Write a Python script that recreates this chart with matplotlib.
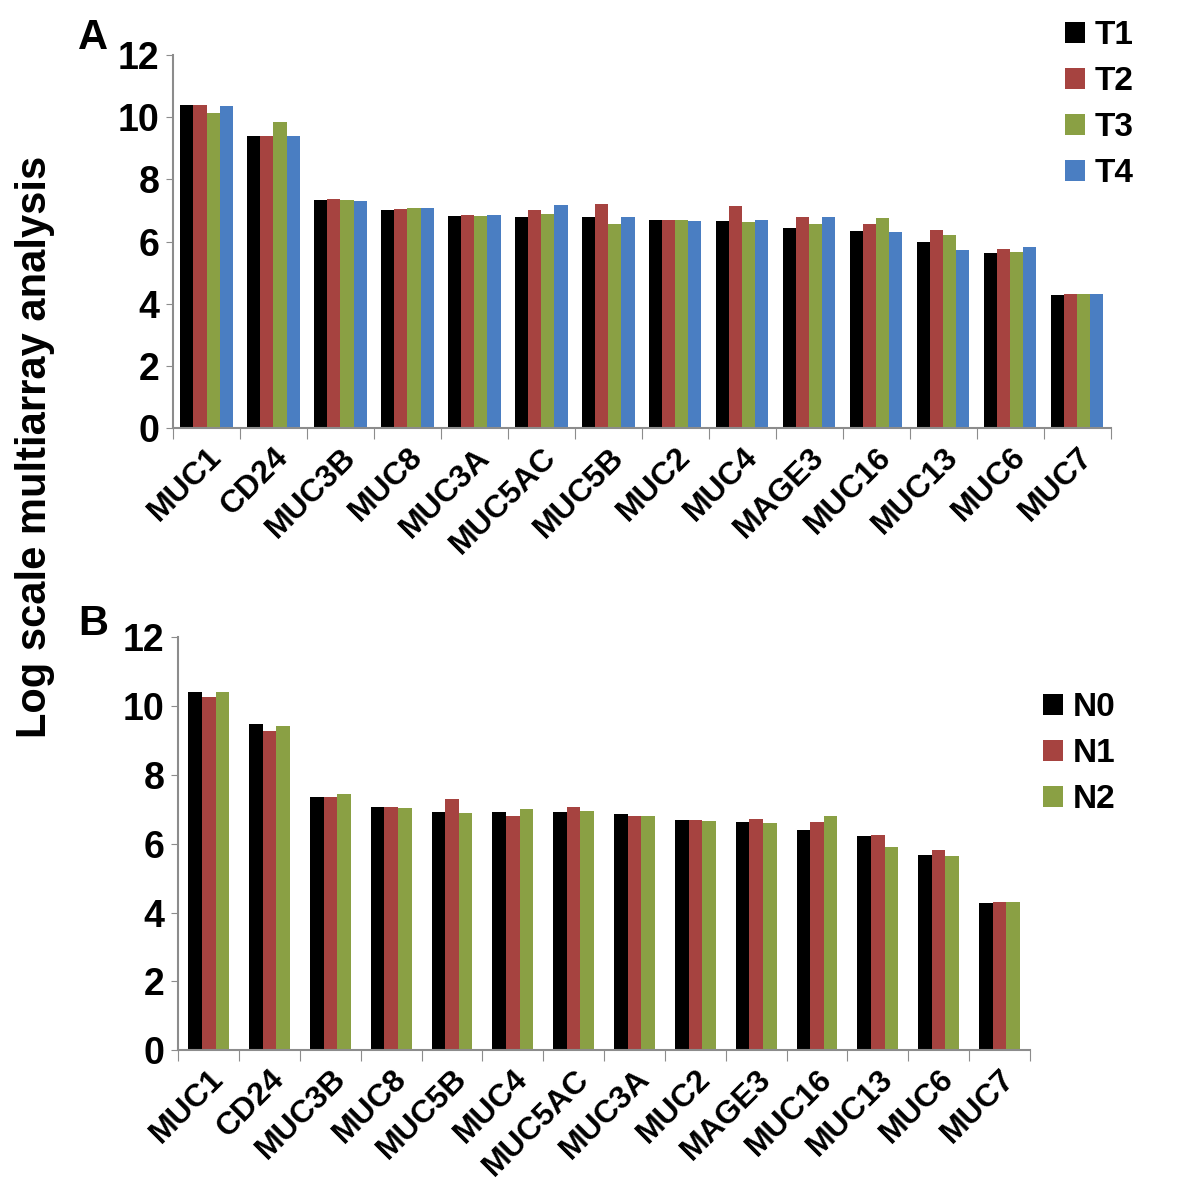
import numpy as np
import matplotlib
matplotlib.use("Agg")
from matplotlib import pyplot as plt

plt.rcParams['font.family'] = ['Liberation Sans', 'DejaVu Sans']
plt.rcParams['font.weight'] = 'bold'

# panel A data
genes_a = ["MUC1", "CD24", "MUC3B", "MUC8", "MUC3A", "MUC5AC", "MUC5B",
           "MUC2", "MUC4", "MAGE3", "MUC16", "MUC13", "MUC6", "MUC7"]
t1 = [10.40, 9.40, 7.35, 7.00, 6.82, 6.80, 6.78, 6.70, 6.66, 6.45, 6.35, 5.98, 5.62, 4.28]
t2 = [10.38, 9.38, 7.38, 7.05, 6.85, 7.03, 7.22, 6.70, 7.15, 6.80, 6.55, 6.38, 5.75, 4.30]
t3 = [10.15, 9.83, 7.35, 7.08, 6.82, 6.88, 6.58, 6.68, 6.62, 6.56, 6.76, 6.20, 5.65, 4.30]
t4 = [10.35, 9.40, 7.30, 7.08, 6.85, 7.17, 6.80, 6.66, 6.68, 6.78, 6.32, 5.72, 5.82, 4.30]

# panel B data
genes_b = ["MUC1", "CD24", "MUC3B", "MUC8", "MUC5B", "MUC4", "MUC5AC",
           "MUC3A", "MUC2", "MAGE3", "MUC16", "MUC13", "MUC6", "MUC7"]
n0 = [10.42, 9.48, 7.35, 7.07, 6.93, 6.92, 6.92, 6.87, 6.70, 6.62, 6.40, 6.24, 5.68, 4.28]
n1 = [10.26, 9.27, 7.37, 7.07, 7.30, 6.82, 7.08, 6.80, 6.68, 6.72, 6.63, 6.26, 5.82, 4.30]
n2 = [10.42, 9.42, 7.44, 7.04, 6.90, 7.02, 6.94, 6.82, 6.67, 6.60, 6.80, 5.92, 5.65, 4.30]

colors = ["#000000", "#A64340", "#8AA044", "#4A7EC2"]
spine_col = "#8c8c8c"


def draw(ax, genes, series, names, group_w):
    x = np.arange(len(genes))
    n = len(series)
    w = group_w / n
    for i, (vals, nm) in enumerate(zip(series, names)):
        ax.bar(x - group_w / 2 + w * (i + 0.5), vals, w, color=colors[i], label=nm)
    ax.set_xlim(-0.5, len(genes) - 0.5)
    ax.set_ylim(0, 12)
    ax.set_yticks(range(0, 13, 2))
    ax.set_xticks(np.arange(len(genes) + 1) - 0.5)
    ax.set_xticklabels([])
    ax.set_xticks(x, minor=True)
    ax.set_xticklabels(genes, minor=True, rotation=45, ha='right',
                       rotation_mode='anchor', fontsize=23, fontweight='bold')
    ax.tick_params(axis='x', which='minor', length=0, pad=10)
    ax.tick_params(axis='x', which='major', length=8, color=spine_col, direction='out')
    ax.tick_params(axis='y', length=5, color=spine_col, labelsize=27, pad=5)
    for s in ['top', 'right']:
        ax.spines[s].set_visible(False)
    for s in ['left', 'bottom']:
        ax.spines[s].set_color(spine_col)
        ax.spines[s].set_linewidth(1.5)


fig = plt.figure(figsize=(11.81, 11.96), dpi=100)

ax1 = fig.add_axes([0.1465, 0.642, 0.794, 0.312])
draw(ax1, genes_a, [t1, t2, t3, t4], ["T1", "T2", "T3", "T4"], 0.78)
ax1.legend(loc='upper left', bbox_to_anchor=(0.937, 1.13), frameon=False,
           prop={'size': 24, 'weight': 'bold'}, handlelength=0.6, handleheight=0.6,
           handletextpad=0.3, labelspacing=0.45, borderaxespad=0)

ax2 = fig.add_axes([0.151, 0.122, 0.721, 0.345])
draw(ax2, genes_b, [n0, n1, n2], ["N0", "N1", "N2"], 0.67)
ax2.legend(loc='upper left', bbox_to_anchor=(1.0, 0.90), frameon=False,
           prop={'size': 24, 'weight': 'bold'}, handlelength=0.6, handleheight=0.6,
           handletextpad=0.3, labelspacing=0.45, borderaxespad=0)

fig.text(0.066, 0.985, "A", fontsize=30, fontweight='bold', va='top')
fig.text(0.066, 0.495, "B", fontsize=30, fontweight='bold', va='top')
fig.text(0.03, 0.626, "Log scale multiarray analysis", rotation=90, fontsize=30,
         fontweight='bold', ha='center', va='center')

fig.savefig("out.png", dpi=100)
